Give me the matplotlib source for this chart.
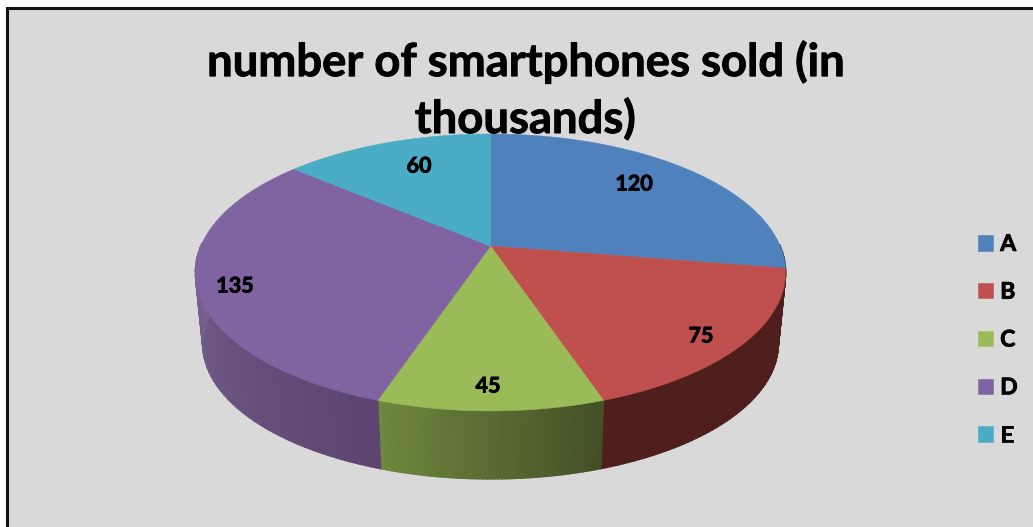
import matplotlib
matplotlib.use('Agg')
import matplotlib.pyplot as plt
import matplotlib.patheffects as pe
from matplotlib.colors import to_rgb
from matplotlib.patches import Rectangle
import numpy as np

# Chart values
categories = ['A', 'B', 'C', 'D', 'E']
sold = [120, 75, 45, 135, 60]
title = 'number of smartphones sold (in\nthousands)'

# Styles
top_colors = ['#4f81bd', '#c0504d', '#9bbb59', '#8064a2', '#4bacc6']
wall_start = ['#2a4565', '#4e1f1d', '#435026', '#5c4570', '#28606e']
wall_end = ['#2a4565', '#4e1f1d', '#6f873e', '#88709f', '#28606e']
label_xy = [(634, 184), (701, 336), (488, 386), (235, 286), (419, 166)]

# Pie geometry in pixels: the circle is seen in perspective
CX, CY = 490.5, 246
A_X, B_Y, K = 289.6, 133.4, 0.191
SHRINK, DEPTH = 0.975, 72


def project(theta, bottom=False):
    # theta is clockwise from the top, in radians
    u, v = np.sin(theta), np.cos(theta)
    x = A_X * u / (1 + K * v)
    y = B_Y * v / (1 + K * v)
    if bottom:
        x = x * SHRINK
        y = y * SHRINK - DEPTH
    return CX + x, CY - y


fig = plt.figure(figsize=(10.33, 5.27), dpi=100, facecolor='white')
ax = fig.add_axes([0, 0, 1, 1])
ax.set_xlim(0, 1033)
ax.set_ylim(527, 0)
ax.axis('off')

# Chart area with its black top and left border
ax.add_patch(Rectangle((7, 8), 1030, 525, facecolor='#d9d9d9', edgecolor='#111111', linewidth=2.2, zorder=0))

edges = np.concatenate([[0], np.cumsum(sold)]) / np.sum(sold) * 2 * np.pi

# Side walls first, split in thin strips for the shading
for i in range(len(sold)):
    steps = np.linspace(edges[i], edges[i + 1], 61)
    c0, c1 = np.array(to_rgb(wall_start[i])), np.array(to_rgb(wall_end[i]))
    for j in range(60):
        if np.cos(steps[j]) > 0 and np.cos(steps[j + 1]) > 0:
            continue
        t = np.linspace(steps[j], steps[j + 1], 3)
        x1, y1 = project(t)
        x2, y2 = project(t[::-1], bottom=True)
        col = c0 + (c1 - c0) * j / 59
        ax.fill(np.r_[x1, x2], np.r_[y1, y2], color=col, lw=1.2, zorder=2)

# Top face
handles = []
for i in range(len(sold)):
    t = np.linspace(edges[i], edges[i + 1], 200)
    x, y = project(t)
    poly = ax.fill(np.r_[CX, x], np.r_[CY, y], color=top_colors[i], lw=0.4, zorder=3)[0]
    handles.append(poly)

thick = [pe.withStroke(linewidth=0.6, foreground='black')]
for i in range(len(sold)):
    ax.text(label_xy[i][0], label_xy[i][1], str(sold[i]), ha='center', va='center', fontsize=15.5,
            fontweight='bold', family='Lato', color='black', zorder=5, path_effects=thick)

ax.text(525, 90.5, title, ha='center', va='center', fontsize=32.7, fontweight='bold', family='Lato',
        linespacing=1.38, color='black', zorder=6, path_effects=thick)

leg = ax.legend(handles, categories, loc='upper left', bbox_to_anchor=(971, 227), bbox_transform=ax.transData,
                frameon=False, prop={'family': 'Lato', 'weight': 'bold', 'size': 16.5}, handlelength=0.655,
                handleheight=0.655, handletextpad=0.32, labelspacing=1.17, borderpad=0.3, borderaxespad=0)
leg.set_zorder(6)
for txt in leg.get_texts():
    txt.set_path_effects(thick)

fig.savefig('out.png', dpi=100, facecolor='white')
